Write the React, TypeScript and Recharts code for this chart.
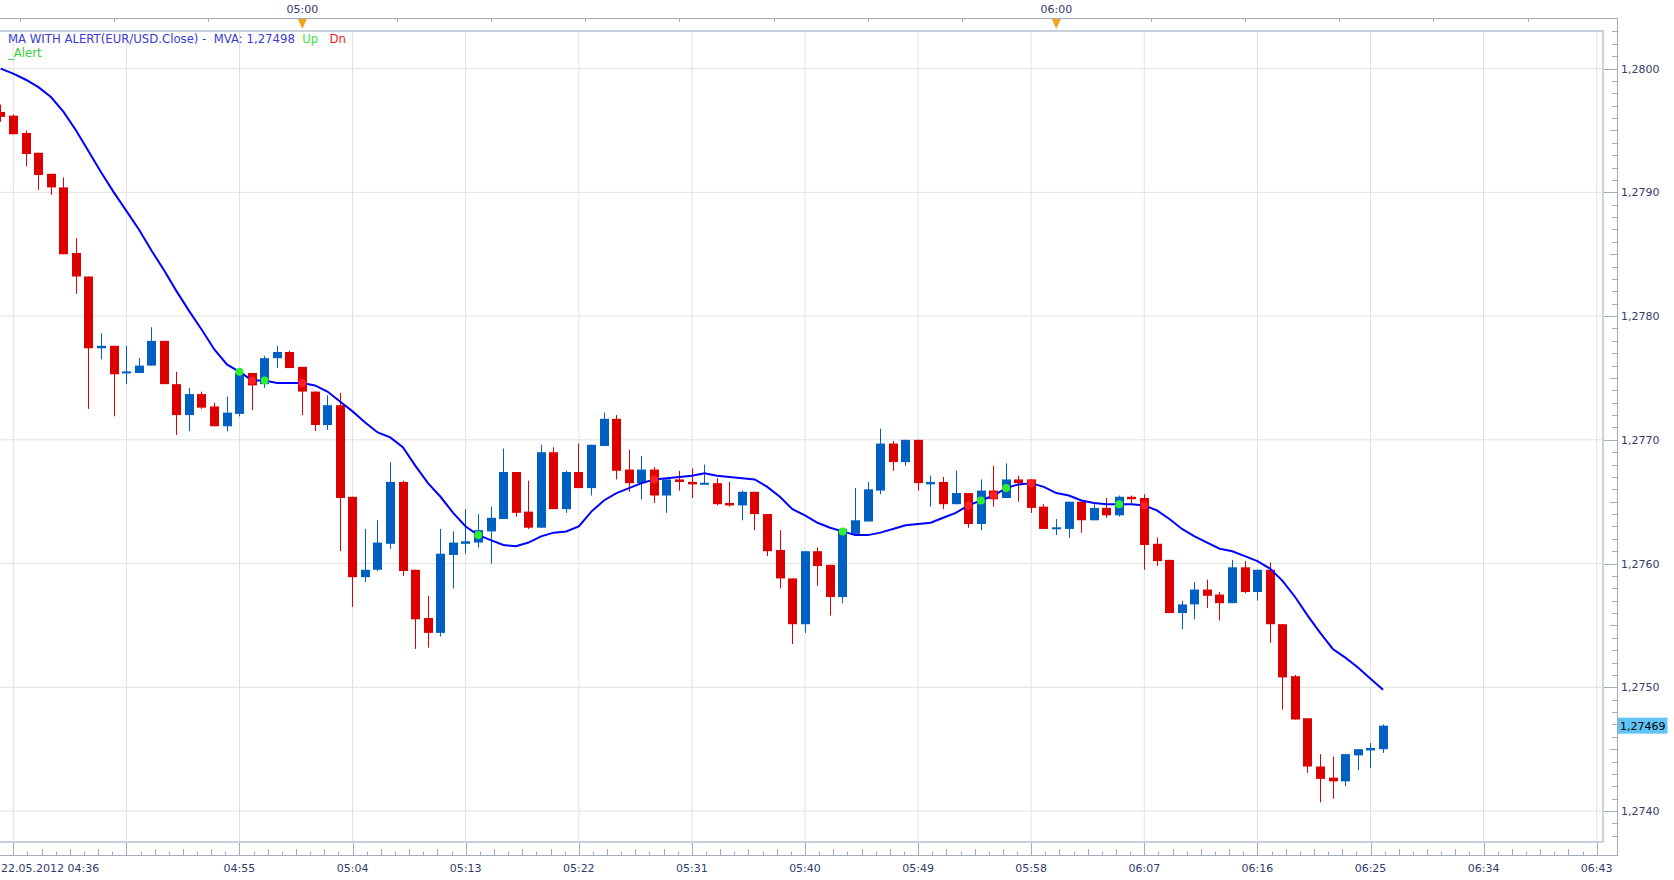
import { Bar, CartesianGrid, ComposedChart, Line, XAxis, YAxis } from "recharts";

// EUR/USD 1-minute candles, 22.05.2012 04:36 .. 06:26 (index = minutes after 04:36)
const OPEN = [
  1.27965, 1.27962, 1.27948, 1.27932, 1.27915, 1.27904, 1.27851, 1.27832, 1.27774, 1.27776,
  1.27754, 1.27754, 1.2776, 1.2778, 1.27745, 1.2772, 1.27737, 1.27727, 1.27711, 1.27721,
  1.27754, 1.27745, 1.27766, 1.27771, 1.27759, 1.27739, 1.27712, 1.27728, 1.27654, 1.27589,
  1.27595, 1.27616, 1.27666, 1.27595, 1.27556, 1.27544, 1.27607, 1.27616, 1.27617, 1.27626,
  1.27636, 1.27674, 1.27642, 1.27629, 1.2769, 1.27644, 1.27674, 1.27661, 1.27695, 1.27717,
  1.27676, 1.27665, 1.27676, 1.27655, 1.27668, 1.27666, 1.27664, 1.27665, 1.27649, 1.27647,
  1.27658, 1.2764, 1.27611, 1.27588, 1.27551, 1.2761, 1.27599, 1.27573, 1.27624, 1.27634,
  1.27659, 1.27697, 1.27682, 1.277, 1.27664, 1.27666, 1.27648, 1.27657, 1.27632, 1.27659,
  1.27653, 1.27668, 1.27668, 1.27646, 1.27628, 1.27628, 1.2765, 1.27635, 1.27645, 1.27639,
  1.27654, 1.27653, 1.27616, 1.27603, 1.2756, 1.27567, 1.27579, 1.27575, 1.27568, 1.27597,
  1.27577, 1.27595, 1.27551, 1.27509, 1.27475, 1.27436, 1.27427, 1.27424, 1.27445, 1.27449,
  1.2745,
];
const HIGH = [
  1.27971, 1.27963, 1.2795, 1.27932, 1.27915, 1.27912, 1.27863, 1.27832, 1.27786, 1.27776,
  1.27776, 1.27766, 1.27791, 1.2778, 1.27755, 1.27742, 1.27739, 1.2773, 1.27735, 1.27754,
  1.27754, 1.27768, 1.27776, 1.27772, 1.27759, 1.27739, 1.27736, 1.27738, 1.27654, 1.27628,
  1.27635, 1.27682, 1.27667, 1.27595, 1.27574, 1.27628, 1.27626, 1.27644, 1.2764, 1.27646,
  1.27693, 1.27674, 1.27667, 1.27696, 1.27694, 1.27675, 1.27697, 1.27696, 1.27722, 1.2772,
  1.27692, 1.27687, 1.27678, 1.27668, 1.27675, 1.27677, 1.2768, 1.27669, 1.27666, 1.27659,
  1.27658, 1.2764, 1.27627, 1.27588, 1.2761, 1.27613, 1.27599, 1.27628, 1.27661, 1.27666,
  1.27709, 1.27699, 1.277, 1.277, 1.27671, 1.2767, 1.27675, 1.27657, 1.27668, 1.27679,
  1.27681, 1.27671, 1.27668, 1.27648, 1.27636, 1.2765, 1.2765, 1.27648, 1.27653, 1.27655,
  1.27655, 1.27656, 1.27621, 1.27603, 1.2757, 1.27585, 1.27587, 1.27577, 1.27603, 1.27602,
  1.27595, 1.27601, 1.27551, 1.2751, 1.27475, 1.27446, 1.27444, 1.27446, 1.2745, 1.27455,
  1.2747,
];
const LOW = [
  1.27957, 1.27947, 1.27921, 1.27902, 1.27898, 1.2785, 1.27818, 1.27725, 1.27765, 1.27719,
  1.27745, 1.27754, 1.2776, 1.27745, 1.27704, 1.27707, 1.27725, 1.27711, 1.27707, 1.27719,
  1.27724, 1.27742, 1.27758, 1.27758, 1.2772, 1.27707, 1.27708, 1.2761, 1.27565, 1.27585,
  1.27594, 1.27612, 1.2759, 1.27531, 1.27532, 1.27541, 1.2758, 1.27608, 1.27613, 1.276,
  1.27636, 1.27638, 1.27628, 1.27629, 1.27644, 1.27641, 1.27661, 1.27655, 1.27695, 1.27668,
  1.27658, 1.27652, 1.27649, 1.27641, 1.27659, 1.27653, 1.27664, 1.27647, 1.27646, 1.27635,
  1.27627, 1.27606, 1.2758, 1.27535, 1.27544, 1.27582, 1.27558, 1.27568, 1.27624, 1.27634,
  1.27656, 1.27675, 1.27679, 1.27659, 1.27646, 1.27644, 1.27648, 1.27629, 1.27627, 1.27646,
  1.27653, 1.2765, 1.27641, 1.27628, 1.27623, 1.27621, 1.27625, 1.27635, 1.27637, 1.27638,
  1.27649, 1.27595, 1.27598, 1.2756, 1.27547, 1.27555, 1.27564, 1.27554, 1.27568, 1.27576,
  1.2757, 1.27536, 1.27482, 1.27474, 1.27431, 1.27407, 1.2741, 1.2742, 1.27433, 1.27435,
  1.27447,
];
const CLOSE = [
  1.27961, 1.27947, 1.27931, 1.27914, 1.27904, 1.2785, 1.27832, 1.27774, 1.27776, 1.27753,
  1.27755, 1.2776, 1.2778, 1.27745, 1.2772, 1.27737, 1.27726, 1.27711, 1.27722, 1.27754,
  1.27744, 1.27766, 1.27771, 1.27758, 1.27739, 1.27712, 1.27728, 1.27653, 1.27589, 1.27595,
  1.27617, 1.27666, 1.27594, 1.27555, 1.27544, 1.27608, 1.27617, 1.27618, 1.27627, 1.27637,
  1.27674, 1.27641, 1.27629, 1.2769, 1.27644, 1.27674, 1.27661, 1.27696, 1.27717, 1.27675,
  1.27665, 1.27676, 1.27655, 1.27668, 1.27666, 1.27664, 1.27665, 1.27648, 1.27647, 1.27658,
  1.2764, 1.2761, 1.27588, 1.27551, 1.2761, 1.27598, 1.27573, 1.27628, 1.27635, 1.2766,
  1.27697, 1.27682, 1.277, 1.27665, 1.27666, 1.27648, 1.27657, 1.27632, 1.27659, 1.27652,
  1.27668, 1.27665, 1.27645, 1.27628, 1.27629, 1.2765, 1.27635, 1.27645, 1.27639, 1.27654,
  1.27652, 1.27615, 1.27602, 1.2756, 1.27567, 1.27579, 1.27574, 1.27568, 1.27597, 1.27577,
  1.27595, 1.27551, 1.27508, 1.27474, 1.27436, 1.27426, 1.27424, 1.27446, 1.2745, 1.27451,
  1.27469,
];
// moving average of the close
const MA = [
  1.28, 1.27996, 1.27991, 1.27985, 1.27977, 1.27965, 1.2795, 1.27933, 1.27916, 1.279,
  1.27885, 1.2787, 1.27853, 1.27837, 1.2782, 1.27804, 1.27789, 1.27773, 1.27761, 1.27755,
  1.27748, 1.27748, 1.27746, 1.27746, 1.27746, 1.27744, 1.27739, 1.27731, 1.27723, 1.27714,
  1.27706, 1.27702, 1.27694, 1.27679, 1.27665, 1.27654, 1.27641, 1.2763, 1.27623, 1.27619,
  1.27615, 1.27614, 1.27617, 1.27622, 1.27625, 1.27626, 1.2763, 1.27642, 1.27651, 1.27657,
  1.27661, 1.27665, 1.27668, 1.27669, 1.2767, 1.27671, 1.27673, 1.27671, 1.2767, 1.27669,
  1.27668, 1.27662, 1.27654, 1.27644, 1.27639, 1.27633, 1.27629, 1.27626, 1.27623, 1.27623,
  1.27625, 1.27628, 1.27631, 1.27632, 1.27633, 1.27637, 1.27641, 1.27647, 1.27651, 1.27655,
  1.27661, 1.27664, 1.27665, 1.27662, 1.27657, 1.27655, 1.27651, 1.27649, 1.27648, 1.27648,
  1.27648, 1.27647, 1.27643, 1.27636, 1.27628, 1.27622, 1.27617, 1.27612, 1.2761, 1.27606,
  1.27602, 1.27596, 1.27586, 1.27573, 1.27558, 1.27544, 1.27531, 1.27524, 1.27516, 1.27507,
  1.27498,
];
const UP_ALERTS = [19, 21, 38, 67, 78, 80, 89];
const DN_ALERTS = [20, 24, 52, 77, 79, 82, 91];

// labelled vertical grid, every 9 minutes from 04:37
const GRID_MINUTES = [1, 10, 19, 28, 37, 46, 55, 64, 73, 82, 91, 100, 109, 118, 127];
const GRID_LABELS = [
  "22.05.2012 04:36", "", "04:55", "05:04", "05:13", "05:22", "05:31", "05:40",
  "05:49", "05:58", "06:07", "06:16", "06:25", "06:34", "06:43",
];
const HOUR_MARKS = [
  { t: 24, label: "05:00" },
  { t: 84, label: "06:00" },
];
const PRICE_LEVELS = [1.274, 1.275, 1.276, 1.277, 1.278, 1.279, 1.28];

const FONT = '"DejaVu Sans", Verdana, sans-serif';
const UP_COLOR = "#0060c2";
const DN_COLOR = "#dc0000";
const AXIS_COLOR = "#a3acb9";
const INNER_BORDER = "#c9d1dc";
const GRID_COLOR = "#e2e2e2";
const LABEL_COLOR = "#343c6c";

const CHART_W = 1674;
const CHART_H = 880;
const BAND_TOP = 18;
const PLOT_TOP = 31;
const PLOT_BOTTOM = 842;
const PLOT_RIGHT = 1602;
const AXIS_RIGHT = 1617;
const AXIS_BOTTOM = 855;

const X_DOMAIN = [-0.0557, 127.421];
const Y_DOMAIN = [1.27375, 1.280304];

const LAST_CLOSE = CLOSE[CLOSE.length - 1];
const LAST_MA = MA[MA.length - 1];

const fmt = (v: number, d: number) => v.toFixed(d).replace(".", ",");
const crisp = (v: number) => Math.round(v) + 0.5;

const rows = OPEN.map((open, i) => ({
  t: i,
  open,
  high: HIGH[i],
  low: LOW[i],
  close: CLOSE[i],
  ma: MA[i],
  up: UP_ALERTS.includes(i) ? MA[i] : null,
  dn: DN_ALERTS.includes(i) ? MA[i] : null,
}));

// bottom axis: 8 sub-ticks between labelled grid minutes
const minorStep = (GRID_MINUTES[1] - GRID_MINUTES[0]) / 8;
const bottomTicks: number[] = [];
for (let k = 0; GRID_MINUTES[0] + k * minorStep <= X_DOMAIN[1]; k++) {
  bottomTicks.push(GRID_MINUTES[0] + k * minorStep);
}
// top band ticks every 7.5 minutes
const topTicks: number[] = [];
for (let v = 1.5; v <= X_DOMAIN[1]; v += 7.5) topTicks.push(v);
// price axis ticks every pip, plus the last close tag
const priceTicks: number[] = [];
for (let p = 12738; p <= 12803; p++) priceTicks.push(p / 10000);
priceTicks.push(LAST_CLOSE);

function Candle(props: any) {
  const { x, y, width, height, payload } = props;
  if (x == null || y == null || !payload) return null;
  const { open, close, high, low } = payload;
  const color = close >= open ? UP_COLOR : DN_COLOR;
  const k = height / (high - low);
  const yo = y + (high - open) * k;
  const yc = y + (high - close) * k;
  let top = Math.min(yo, yc);
  let h = Math.abs(yo - yc);
  if (h < 2) {
    top = (yo + yc) / 2 - 1;
    h = 2;
  }
  const cx = Math.floor(x + width / 2) + 0.5;
  return (
    <g>
      <line x1={cx} x2={cx} y1={y} y2={y + height} stroke={color} strokeWidth={1} />
      <rect x={cx - 4.5} y={top} width={9} height={h} fill={color} />
    </g>
  );
}

function BottomTick(props: any) {
  const { x, payload } = props;
  const k = Math.round((payload.value - GRID_MINUTES[0]) / minorStep);
  const major = k % 8 === 0;
  const len = major ? 12 : k % 2 === 0 ? 6 : 3.5;
  const label = major ? GRID_LABELS[k / 8] : "";
  const xx = crisp(x);
  return (
    <g>
      <line x1={xx} x2={xx} y1={AXIS_BOTTOM - len} y2={AXIS_BOTTOM} stroke={AXIS_COLOR} />
      {label && (
        <text
          x={k === 0 ? 1 : x}
          y={872}
          textAnchor={k === 0 ? "start" : "middle"}
          fontFamily={FONT}
          fontSize={11}
          fill={LABEL_COLOR}
        >
          {label}
        </text>
      )}
    </g>
  );
}

function TopTick(props: any) {
  const { x, payload } = props;
  const mark = HOUR_MARKS.find((m) => Math.abs(m.t - payload.value) < 0.01);
  const xx = crisp(x);
  return (
    <g>
      <line x1={xx} x2={xx} y1={BAND_TOP} y2={BAND_TOP + 4} stroke={AXIS_COLOR} />
      {mark && (
        <>
          <polygon
            points={`${x - 4.5},${BAND_TOP + 1} ${x + 4.5},${BAND_TOP + 1} ${x},${BAND_TOP + 11}`}
            fill="#f4a21e"
          />
          <text x={x} y={13} textAnchor="middle" fontFamily={FONT} fontSize={11} fill={LABEL_COLOR}>
            {mark.label}
          </text>
        </>
      )}
    </g>
  );
}

function PriceTick(props: any) {
  const { y, payload } = props;
  const v = payload.value;
  if (v === LAST_CLOSE) {
    return (
      <g>
        <rect x={AXIS_RIGHT + 0.5} y={y - 8} width={50} height={16} fill="#62c4f4" />
        <text x={AXIS_RIGHT + 3} y={y + 4} fontFamily={FONT} fontSize={11} fill="#000">
          {fmt(v, 5)}
        </text>
      </g>
    );
  }
  const pip = Math.round(v * 10000);
  const major = pip % 10 === 0;
  const len = major ? 14 : pip % 5 === 0 ? 7 : 5;
  const yy = crisp(y);
  return (
    <g>
      <line x1={AXIS_RIGHT - len} x2={AXIS_RIGHT} y1={yy} y2={yy} stroke={AXIS_COLOR} />
      {major && (
        <text x={AXIS_RIGHT + 4} y={y + 4} fontFamily={FONT} fontSize={11} fill={LABEL_COLOR}>
          {fmt(v, 4)}
        </text>
      )}
    </g>
  );
}

export default function App() {
  return (
    <div
      style={{
        position: "absolute",
        left: 0,
        top: 0,
        width: CHART_W,
        height: CHART_H,
        background: "#fff",
      }}
    >
      <ComposedChart
        width={CHART_W}
        height={CHART_H}
        data={rows}
        margin={{ top: BAND_TOP, right: 0, bottom: 0, left: 0 }}
      >
        <CartesianGrid
          stroke={GRID_COLOR}
          horizontalValues={PRICE_LEVELS}
          verticalValues={GRID_MINUTES}
        />
        <XAxis
          dataKey="t"
          type="number"
          domain={X_DOMAIN}
          allowDataOverflow
          height={CHART_H - PLOT_BOTTOM}
          ticks={bottomTicks}
          interval={0}
          axisLine={false}
          tickLine={false}
          tick={(p: any) => <BottomTick {...p} />}
        />
        <XAxis
          xAxisId="top"
          orientation="top"
          dataKey="t"
          type="number"
          domain={X_DOMAIN}
          allowDataOverflow
          height={PLOT_TOP - BAND_TOP}
          ticks={topTicks}
          interval={0}
          axisLine={false}
          tickLine={false}
          tick={(p: any) => <TopTick {...p} />}
        />
        <YAxis
          orientation="right"
          type="number"
          domain={Y_DOMAIN}
          allowDataOverflow
          width={CHART_W - PLOT_RIGHT}
          ticks={priceTicks}
          interval={0}
          axisLine={false}
          tickLine={false}
          tick={(p: any) => <PriceTick {...p} />}
        />
        <Bar
          dataKey={(d: any) => [d.low, d.high]}
          barSize={9}
          shape={(p: any) => <Candle {...p} />}
          isAnimationActive={false}
        />
        <Line
          dataKey="ma"
          type="linear"
          stroke="#0000ff"
          strokeWidth={2}
          dot={false}
          activeDot={false}
          isAnimationActive={false}
        />
        <Line
          dataKey="up"
          stroke="none"
          dot={{ r: 4, fill: "#2ff02f", stroke: "none" }}
          activeDot={false}
          isAnimationActive={false}
        />
        <Line
          dataKey="dn"
          stroke="none"
          dot={{ r: 4, fill: "#ff1f1f", stroke: "none" }}
          activeDot={false}
          isAnimationActive={false}
        />
      </ComposedChart>

      {/* frame, band borders and indicator caption */}
      <svg
        width={CHART_W}
        height={CHART_H}
        style={{ position: "absolute", left: 0, top: 0, pointerEvents: "none" }}
      >
        <line x1={0} x2={AXIS_RIGHT + 0.5} y1={BAND_TOP + 0.5} y2={BAND_TOP + 0.5} stroke={AXIS_COLOR} />
        <line x1={AXIS_RIGHT + 0.5} x2={AXIS_RIGHT + 0.5} y1={BAND_TOP} y2={AXIS_BOTTOM + 1} stroke={AXIS_COLOR} />
        <line x1={0} x2={AXIS_RIGHT + 0.5} y1={AXIS_BOTTOM + 0.5} y2={AXIS_BOTTOM + 0.5} stroke={AXIS_COLOR} />
        <line x1={0} x2={PLOT_RIGHT + 2} y1={PLOT_TOP} y2={PLOT_TOP} stroke={INNER_BORDER} strokeWidth={2} />
        <line x1={PLOT_RIGHT + 1} x2={PLOT_RIGHT + 1} y1={PLOT_TOP - 1} y2={PLOT_BOTTOM + 1} stroke={INNER_BORDER} strokeWidth={2} />
        <line x1={0} x2={PLOT_RIGHT + 2} y1={PLOT_BOTTOM} y2={PLOT_BOTTOM} stroke={INNER_BORDER} strokeWidth={2} />
        <text x={8} y={43} fontFamily={FONT} fontSize={11.7} style={{ whiteSpace: "pre" }}>
          <tspan fill="#3b3bd6">{`MA WITH ALERT(EUR/USD.Close) -  MVA: ${fmt(LAST_MA, 5)}  `}</tspan>
          <tspan fill="#3ee03e">Up</tspan>
          <tspan fill="#ee1c1c">{"   Dn"}</tspan>
        </text>
        <text x={8} y={56.5} fontFamily={FONT} fontSize={11.7} fill="#33cc33">
          _Alert
        </text>
      </svg>
    </div>
  );
}
